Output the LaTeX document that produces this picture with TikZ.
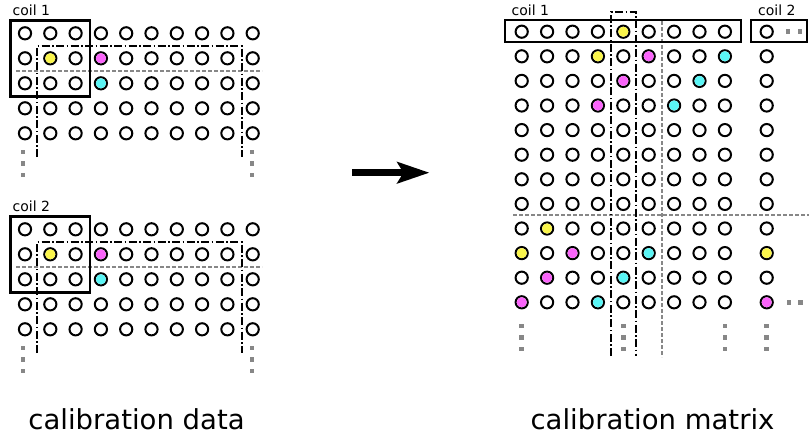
\documentclass[tikz,border=0pt]{standalone}
\usepackage{fontspec}
\setmainfont{DejaVu Sans}
\usepackage{xcolor}
\usepackage{tikz}
\usetikzlibrary{arrows.meta}

\definecolor{dotyellow}{RGB}{250,245,75}
\definecolor{dotmagenta}{RGB}{250,100,250}
\definecolor{dotcyan}{RGB}{90,245,245}
\definecolor{dotgray}{RGB}{135,135,135}

\tikzset{
    hole/.style={circle,draw=black,fill=white,line width=2pt,inner sep=0pt,minimum size=12.2pt},
    coilbox/.style={draw=black,line width=2.8pt},
    sweep/.style={draw=black,line width=1.9pt,dash pattern=on 8pt off 2.5pt on 1.5pt off 2.5pt},
    split/.style={draw=dotgray,line width=1.1pt,dash pattern=on 4pt off 2pt},
    more/.style={rectangle,fill=dotgray,minimum size=4.8pt,inner sep=0pt},
    coillabel/.style={font=\fontsize{14}{16}\selectfont,inner sep=0pt,anchor=base west},
    caption/.style={font=\fontsize{27.5}{32}\selectfont,inner sep=0pt,anchor=base}
}

\begin{document}
\begin{tikzpicture}[x=1pt,y=-1pt]
    \useasboundingbox (0,0) rectangle (809,440);

    % calibration data, one block per coil
    \foreach \c/\oy in {1/0,2/196}{
        \begin{scope}[shift={(0,\oy)}]
            \node[coillabel] (lab\c) at (12.5,15) {coil \c};
            \draw[split] (16,71)--(262,71);
            \draw[sweep] (36.7,157)--(36.7,46)--(242,46)--(242,157);
            \foreach \i in {0,...,9}
                \foreach \j in {0,...,4}
                    \node[hole] (d\c-\i-\j) at ({25+25.3*\i},{33.3+25*\j}) {};
            \fill[dotyellow] (d\c-1-1) circle (5.1pt);
            \fill[dotmagenta] (d\c-3-1) circle (5.1pt);
            \fill[dotcyan] (d\c-3-2) circle (5.1pt);
            \draw[coilbox] (10.5,20.5) rectangle (90,96.5);
            \foreach \x/\s in {23/a,252/b}
                \foreach \y/\t in {152/1,163.5/2,175/3}
                    \node[more] (v\c\s\t) at (\x,\y) {};
        \end{scope}
    }

    \coordinate (from) at (352,172.7);
    \coordinate (to) at (429.5,172.7);
    \draw[line width=7pt,-{Stealth[length=32pt,width=21pt,inset=6pt]}] (from)--(to);

    % calibration matrix
    \node[coillabel] (lab3) at (511.5,15) {coil 1};
    \node[coillabel] (lab4) at (758,15) {coil 2};
    \draw[split] (662,21)--(662,357);
    \draw[split] (513,215)--(809,215);
    \draw[sweep] (611,356)--(611,12)--(636,12)--(636,356);
    \foreach \j in {0,...,11}{
        \foreach \i in {0,...,8}
            \node[hole] (m-\i-\j) at ({521.7+25.4*\i},{31.7+24.6*\j}) {};
        \node[hole] (m-9-\j) at (766.7,{31.7+24.6*\j}) {};
    }
    \foreach \i/\j/\col in {4/0/dotyellow,3/1/dotyellow,5/1/dotmagenta,8/1/dotcyan,
        4/2/dotmagenta,7/2/dotcyan,3/3/dotmagenta,6/3/dotcyan,1/8/dotyellow,
        0/9/dotyellow,2/9/dotmagenta,5/9/dotcyan,9/9/dotyellow,1/10/dotmagenta,
        4/10/dotcyan,0/11/dotmagenta,3/11/dotcyan,9/11/dotmagenta}
        \fill[\col] (m-\i-\j) circle (5.1pt);
    \draw[coilbox] (505,20) rectangle (741,42);
    \draw[coilbox] (751,20) rectangle (807,42);
    \foreach \x/\s in {521.7/a,623.3/b,725/c,766.7/d}
        \foreach \y/\t in {326/1,337.5/2,349/3}
            \node[more] (w\s\t) at (\x,\y) {};
    \node[more] (h1) at (788,31.7) {};
    \node[more] (h2) at (800,31.7) {};
    \node[more] (h3) at (789,302.3) {};
    \node[more] (h4) at (800.5,302.3) {};

    \node[caption] (datacap) at (136.5,429) {calibration data};
    \node[caption] (matrixcap) at (652.5,429) {calibration matrix};
\end{tikzpicture}
\end{document}
